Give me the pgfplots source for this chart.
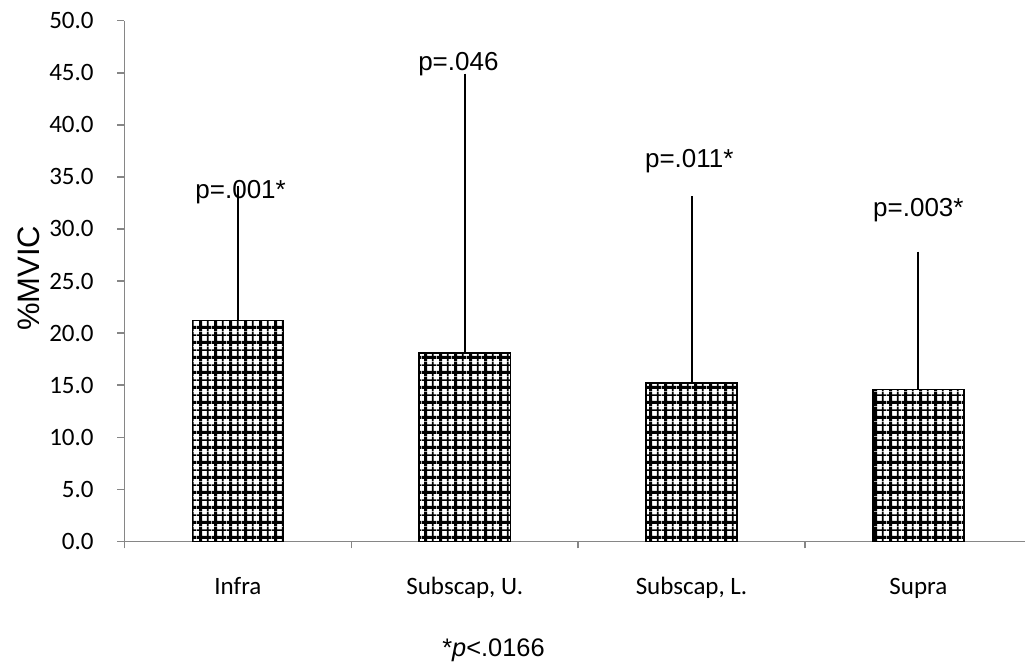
\documentclass[border=0pt]{standalone}
\usepackage{pgfplots}
\pgfplotsset{compat=1.18}
\usepackage{fontspec}
\setmainfont{Carlito}
\newfontfamily\arial{Liberation Sans}
\usetikzlibrary{patterns}
\definecolor{axgray}{HTML}{868686}
\pgfdeclarepatternformonly{mygrid}{\pgfpointorigin}{\pgfqpoint{7.6pt}{7.6pt}}{\pgfqpoint{7.6pt}{7.6pt}}{%
  \pgfsetlinewidth{1.6pt}%
  \pgfpathmoveto{\pgfqpoint{1.9pt}{0pt}}\pgfpathlineto{\pgfqpoint{1.9pt}{7.6pt}}%
  \pgfpathmoveto{\pgfqpoint{0pt}{1.9pt}}\pgfpathlineto{\pgfqpoint{7.6pt}{1.9pt}}%
  \pgfusepath{stroke}%
  \pgfsetlinewidth{0.9pt}%
  \pgfpathmoveto{\pgfqpoint{5.7pt}{0pt}}\pgfpathlineto{\pgfqpoint{5.7pt}{7.6pt}}%
  \pgfpathmoveto{\pgfqpoint{0pt}{5.7pt}}\pgfpathlineto{\pgfqpoint{7.6pt}{5.7pt}}%
  \pgfusepath{stroke}%
}
\begin{document}
\begin{tikzpicture}
\begin{axis}[
  at={(62.25pt,60.3pt)}, anchor=south west,
  scale only axis, width=450.25pt, height=260.35pt,
  xmin=-0.5, xmax=3.47, ymin=0, ymax=50,
  clip=false,
  axis x line=bottom, axis y line=left,
  axis line style={axgray, line width=0.75pt, -},
  tick align=outside,
  major tick length=3.5pt, minor tick length=3.5pt,
  tick style={axgray, line width=0.75pt},
  ytick={0,5,...,50},
  yticklabel style={font=\fontsize{12.5}{14}\selectfont, anchor=east, inner sep=0pt, xshift=-11.75pt},
  /pgf/number format/.cd, fixed, fixed zerofill, precision=1, assume math mode=true, /pgfplots/.cd,
  xtick={0,1,2,3},
  xticklabels={Infra,{Subscap, U.},{Subscap, L.},Supra},
  major x tick style={draw=none},
  minor x tick style={draw=axgray, line width=0.75pt},
  minor xtick={-0.5,0.5,1.5,2.5},
  xticklabel style={font=\fontsize{12.5}{14}\selectfont, anchor=base, inner sep=0pt, yshift=-23.3pt},
]
\addplot[ybar, bar width=0.402, draw=black, line width=0.75pt,
  pattern=mygrid, pattern color=black,
  error bars/.cd, y dir=plus, y explicit,
  error bar style={black, line width=1pt},
  error mark options={black, mark size=2.75pt, line width=1pt}]
  coordinates {
  (0,21.2) +- (0,12.4)
  (1,18.1) +- (0,26.3)
  (2,15.2) +- (0,17.4)
  (3,14.6) +- (0,12.7)
  };
\node[font=\arial\fontsize{13}{15}\selectfont, anchor=base] at (axis cs:0.012,32.9) {p=.001*};
\node[font=\arial\fontsize{13}{15}\selectfont, anchor=base] at (axis cs:0.972,45.2) {p=.046};
\node[font=\arial\fontsize{13}{15}\selectfont, anchor=base] at (axis cs:1.99,35.9) {p=.011*};
\node[font=\arial\fontsize{13}{15}\selectfont, anchor=base] at (axis cs:3.0,31.2) {p=.003*};
\node[rotate=90, font=\arial\fontsize{15.5}{17}\selectfont] at ([xshift=-47.75pt]axis cs:-0.5,25.25) {\%MVIC};
\node[font=\arial\fontsize{12.7}{14}\selectfont, anchor=base] at ([yshift=-57.8pt]axis cs:1.127,0) {*\textit{p}<.0166};
\end{axis}
\pgfresetboundingbox
\path[use as bounding box] (0,0) rectangle (512.5pt,331pt);
\end{tikzpicture}
\end{document}
